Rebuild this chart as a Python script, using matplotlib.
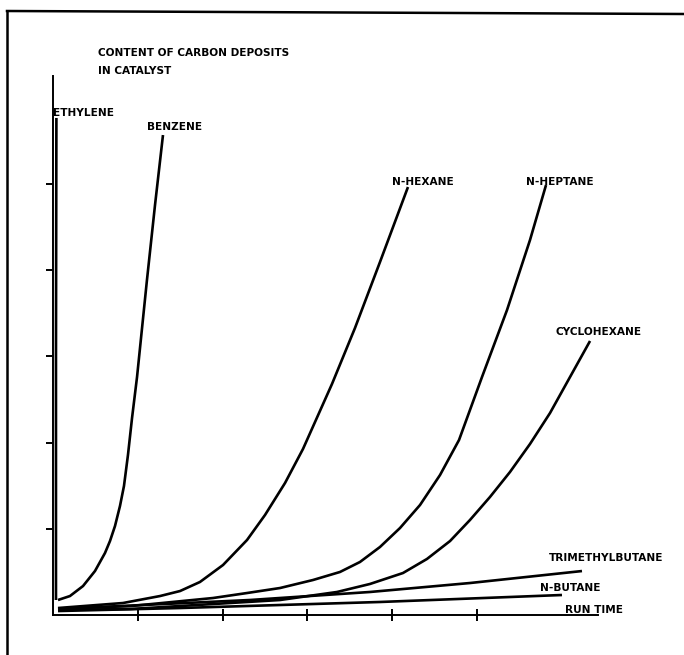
import matplotlib
matplotlib.use("Agg")
import matplotlib.pyplot as plt
from matplotlib.lines import Line2D
import numpy as np

# ---------------- data (arbitrary units) ----------------
x_ticks = [1, 2, 3, 4, 5]
y_ticks = [1, 2, 3, 4, 5]

ethylene_x = [0.035, 0.035, 0.040]
ethylene_y = [0.174, 3.000, 5.766]

benzene_x = [0.059, 0.200, 0.354, 0.495, 0.613, 0.672, 0.731, 0.790, 0.837, 0.884, 0.932, 0.991, 1.108, 1.203, 1.297]
benzene_y = [0.174, 0.220, 0.336, 0.510, 0.719, 0.858, 1.032, 1.265, 1.497, 1.856, 2.285, 2.761, 3.886, 4.756, 5.568]

hexane_x = [0.059, 0.825, 1.262, 1.498, 1.733, 2.005, 2.288, 2.500, 2.736, 2.948, 3.290, 3.561, 3.856, 4.186]
hexane_y = [0.081, 0.139, 0.220, 0.278, 0.383, 0.580, 0.870, 1.160, 1.531, 1.926, 2.680, 3.329, 4.095, 4.965]

heptane_x = [0.059, 0.920, 1.887, 2.288, 2.677, 3.066, 3.384, 3.620, 3.856, 4.092, 4.328, 4.564, 4.788, 5.059, 5.354, 5.625, 5.814]
heptane_y = [0.070, 0.104, 0.197, 0.255, 0.313, 0.406, 0.499, 0.615, 0.789, 1.009, 1.276, 1.624, 2.030, 2.761, 3.538, 4.350, 4.988]

cyclohexane_x = [0.059, 0.920, 2.087, 2.677, 3.349, 3.738, 4.127, 4.410, 4.682, 4.917, 5.153, 5.389, 5.625, 5.861, 6.097, 6.333]
cyclohexane_y = [0.058, 0.070, 0.139, 0.174, 0.267, 0.360, 0.487, 0.650, 0.858, 1.102, 1.369, 1.659, 1.984, 2.343, 2.761, 3.179]

trimethylbutane_x = [0.059, 2.323, 3.738, 4.917, 6.238]
trimethylbutane_y = [0.070, 0.174, 0.267, 0.371, 0.510]

butane_x = [0.059, 1.498, 3.856, 6.002]
butane_y = [0.046, 0.081, 0.151, 0.232]

series = [
    (ethylene_x, ethylene_y),
    (benzene_x, benzene_y),
    (hexane_x, hexane_y),
    (heptane_x, heptane_y),
    (cyclohexane_x, cyclohexane_y),
    (trimethylbutane_x, trimethylbutane_y),
    (butane_x, butane_y),
]

# label texts: (text, left x px, centre y px, target width px) in the 684x655 image
labels = [
    ("CONTENT OF CARBON DEPOSITS", 98, 53, 184),
    ("IN CATALYST", 98, 71, 72),
    ("ETHYLENE", 53, 113, 55),
    ("BENZENE", 147, 127, 51),
    ("N-HEXANE", 392, 182, 58),
    ("N-HEPTANE", 526, 182, 66),
    ("CYCLOHEXANE", 555, 332, 78),
    ("TRIMETHYLBUTANE", 549, 558, 107),
    ("N-BUTANE", 540, 588, 63),
    ("RUN TIME", 565, 610, 57),
]

# ---------------- figure ----------------
W, H = 684, 655
fig = plt.figure(figsize=(W / 100, H / 100), dpi=100)
fig.patch.set_facecolor("white")

ax = fig.add_axes([53 / W, 40 / H, 545 / W, 539 / H])
ax.set_xlim(0, 545 / 84.8)
ax.set_ylim(0, 539 / 86.2)

for xs, ys in series:
    ax.plot(xs, ys, color="black", lw=1.9, solid_capstyle="butt",
            solid_joinstyle="round")

for s in ("top", "right"):
    ax.spines[s].set_visible(False)
for s in ("left", "bottom"):
    ax.spines[s].set_linewidth(1.4)
    ax.spines[s].set_color("black")

ax.set_xticks(x_ticks)
ax.set_yticks(y_ticks)
ax.set_xticklabels([])
ax.set_yticklabels([])
ax.tick_params(axis="x", direction="inout", length=9, width=1.4, color="black")
ax.tick_params(axis="y", direction="out", length=5, width=1.4, color="black")

texts = []
for txt, px, py, tw in labels:
    t = fig.text(px / W, 1 - py / H, txt, ha="left", va="center",
                 family=["DejaVu Sans"], fontweight="bold",
                 fontsize=10.0, color="black")
    texts.append((t, tw))

# one common size: the median of the sizes that fit each label's reference width
fig.canvas.draw()
renderer = fig.canvas.get_renderer()
sizes = []
for t, tw in texts:
    w = t.get_window_extent(renderer).width
    sizes.append(t.get_fontsize() * tw / w)
common = float(np.median(sizes)) * 1.05
for t, _ in texts:
    t.set_fontsize(common)

# outer frame (left and top edges)
fig.add_artist(Line2D([7 / W, 7 / W], [1 - 11 / H, 0], transform=fig.transFigure,
                      color="black", lw=1.8))
fig.add_artist(Line2D([7 / W, 1], [1 - 11 / H, 1 - 14 / H], transform=fig.transFigure,
                      color="black", lw=1.8))

fig.savefig("out.png", dpi=100, facecolor="white")
